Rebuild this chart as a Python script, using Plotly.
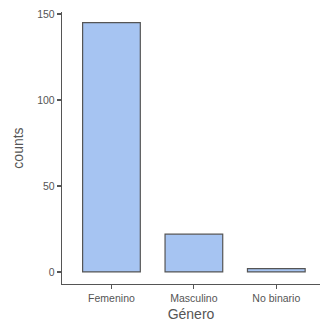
import plotly.graph_objects as go

categories = ["Femenino", "Masculino", "No binario"]
counts = [145, 22, 2]
y_ticks = [0, 50, 100, 150]

FONT = "Liberation Sans, Arial, sans-serif"
GREY = "#555555"

fig = go.Figure(go.Bar(
    x=categories, y=counts, width=0.7,
    marker=dict(color="#a6c4f2", line=dict(color=GREY, width=1.2)),
))

axis_font = dict(family=FONT, size=10.5, color=GREY)
fig.update_layout(
    template="none",
    width=320, height=329,
    margin=dict(l=62, r=0, t=12, b=45),
    paper_bgcolor="white", plot_bgcolor="white",
    showlegend=False,
    font=dict(family=FONT, color=GREY),
)
fig.update_xaxes(
    range=[-0.6, 2.53], showline=True, linecolor=GREY, linewidth=1.2,
    ticks="outside", ticklen=4, tickcolor=GREY, tickwidth=1.2,
    tickfont=axis_font, showgrid=False, zeroline=False, automargin=False,
    title=dict(text="Género", font=dict(family=FONT, size=14, color=GREY), standoff=6),
)
fig.update_yaxes(
    range=[-7, 151.2], showline=True, linecolor=GREY, linewidth=1.2,
    ticks="outside", ticklen=4, tickcolor=GREY, tickwidth=1.2,
    tickvals=y_ticks, tickfont=axis_font, showgrid=False, zeroline=False, automargin=False,
    title=dict(text="counts", font=dict(family=FONT, size=14, color=GREY), standoff=10),
)
fig.write_html(
    "out.html",
    config={"displayModeBar": False, "staticPlot": True},
    post_script="document.body.style.margin='0';document.body.style.overflow='hidden';",
)
